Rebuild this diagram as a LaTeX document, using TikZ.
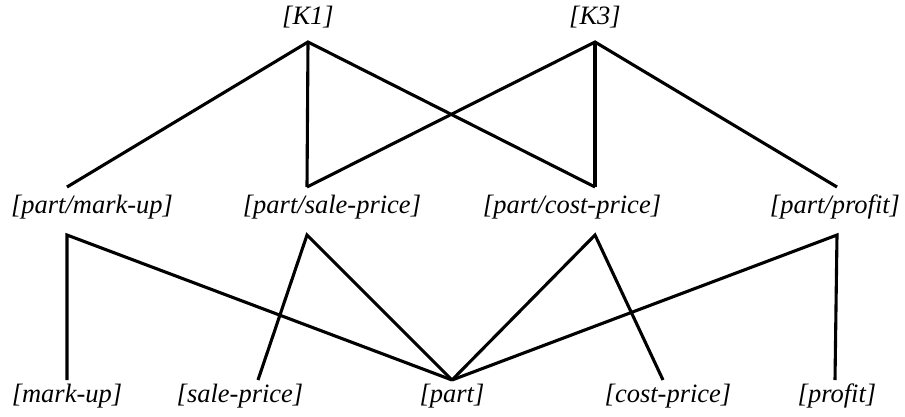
\documentclass[tikz,border=0pt]{standalone}
\usepackage{fontspec}
\setmainfont{Liberation Serif}
\usetikzlibrary{calc}
\tikzset{
  lbl/.style={anchor=base, inner sep=0pt, font=\fontsize{26.5}{30}\selectfont\itshape},
  edge/.style={line width=3.1pt, line join=miter, line cap=butt}
}
\begin{document}
\begin{tikzpicture}[x=1pt,y=-1pt]
\useasboundingbox (0,0) rectangle (905,416);
% top row
\node[lbl] (k1) at (308,24) {[K1]};
\node[lbl] (k3) at (595,24) {[K3]};
% middle row
\node[lbl] (pm) at (92,213) {[part/mark-up]};
\node[lbl] (ps) at (332,213) {[part/sale-price]};
\node[lbl] (pc) at (572,213) {[part/cost-price]};
\node[lbl] (pp) at (835,213) {[part/profit]};
% bottom row
\node[lbl] (m) at (67,402) {[mark-up]};
\node[lbl] (s) at (240,402) {[sale-price]};
\node[lbl] (p) at (452,402) {[part]};
\node[lbl] (c) at (668,402) {[cost-price]};
\node[lbl] (f) at (837,402) {[profit]};
% top connectors
\draw[edge] ($(pm.base)+(-25,-26)$) -- ($(k1.base)+(0,18)$) -- ($(pc.base)+(23,-26)$);
\draw[edge] ($(k1.base)+(0,18)$) -- ($(ps.base)+(-25,-26)$);
\draw[edge] ($(ps.base)+(-25,-26)$) -- ($(k3.base)+(0,18)$) -- ($(pp.base)+(2,-26)$);
\draw[edge] ($(k3.base)+(0,18)$) -- ($(pc.base)+(23,-26)$);
% bottom connectors
\draw[edge] ($(m.base)+(0,-22)$) -- ($(pm.base)+(-25,22)$) -- ($(p.base)+(0,-22)$);
\draw[edge] ($(s.base)+(18,-22)$) -- ($(ps.base)+(-25,22)$) -- ($(p.base)+(0,-22)$);
\draw[edge] ($(p.base)+(0,-22)$) -- ($(pc.base)+(23,22)$) -- ($(c.base)+(-5,-22)$);
\draw[edge] ($(p.base)+(0,-22)$) -- ($(pp.base)+(2,22)$) -- ($(f.base)+(-2,-22)$);
\end{tikzpicture}
\end{document}
